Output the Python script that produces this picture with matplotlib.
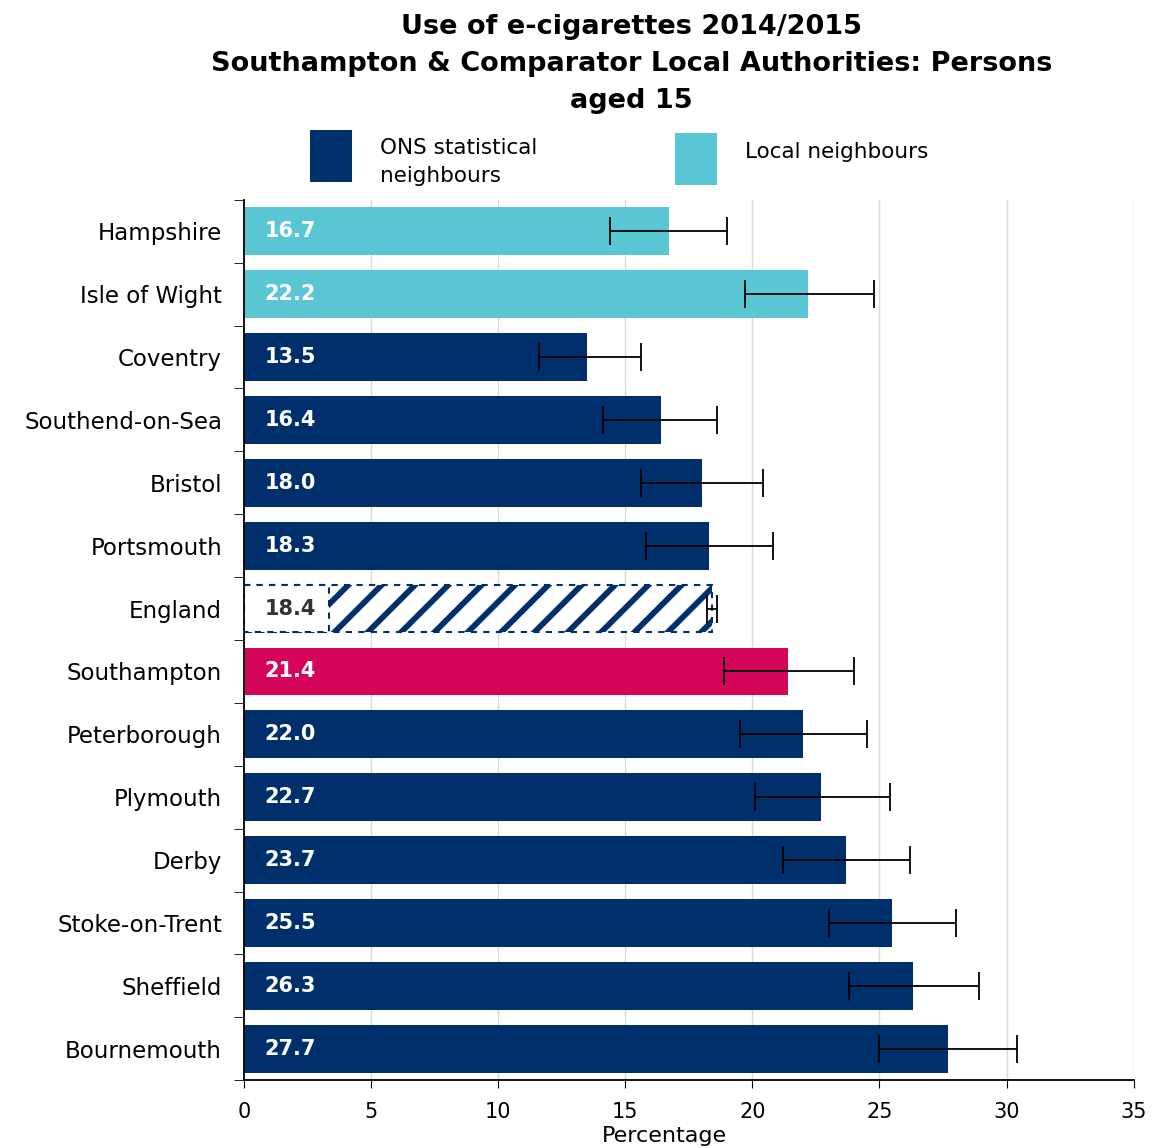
import matplotlib.pyplot as plt
import matplotlib.patches as mpatches
import numpy as np

plt.rcParams["font.family"] = ["DejaVu Sans"]
plt.rcParams["hatch.linewidth"] = 4.2

AREAS = ["Hampshire", "Isle of Wight", "Coventry", "Southend-on-Sea", "Bristol",
         "Portsmouth", "England", "Southampton", "Peterborough", "Plymouth",
         "Derby", "Stoke-on-Trent", "Sheffield", "Bournemouth"]
VALUES = [16.7, 22.2, 13.5, 16.4, 18.0, 18.3, 18.4, 21.4, 22.0, 22.7, 23.7, 25.5, 26.3, 27.7]
LOWER = [14.4, 19.7, 11.6, 14.1, 15.6, 15.8, 18.2, 18.9, 19.5, 20.1, 21.2, 23.0, 23.8, 25.0]
UPPER = [19.0, 24.8, 15.6, 18.6, 20.4, 20.8, 18.6, 24.0, 24.5, 25.4, 26.2, 28.0, 28.9, 30.4]
GROUPS = ["local", "local", "ons", "ons", "ons", "ons", "england", "southampton",
          "ons", "ons", "ons", "ons", "ons", "ons"]

NAVY = "#00306b"
CYAN = "#5bc6d3"
PINK = "#d4055b"
colors = {"local": CYAN, "ons": NAVY, "southampton": PINK, "england": "white"}
BAR_H = 0.76
LABEL_BG = 3.35  # width of the white box behind the England label

fig = plt.figure(figsize=(11.52, 11.48), dpi=100)
ax = fig.add_axes([0.212, 0.059, 0.772, 0.767])

y = np.arange(len(AREAS))
for i, (v, g) in enumerate(zip(VALUES, GROUPS)):
    if g == "england":
        ax.barh(i, v, height=BAR_H, color="white", edgecolor=NAVY, hatch="/",
                linestyle=(0, (3, 3)), linewidth=1.5, zorder=2)
        ax.barh(i, LABEL_BG, height=BAR_H, color="white", edgecolor=NAVY,
                linestyle=(0, (3, 3)), linewidth=1.5, zorder=2.5)
    else:
        ax.barh(i, v, height=BAR_H, color=colors[g], zorder=2)

vals = np.array(VALUES)
err = [vals - np.array(LOWER), np.array(UPPER) - vals]
ax.errorbar(vals, y, xerr=err, fmt="none", ecolor="black", elinewidth=1.3,
            capsize=10, capthick=1.3, zorder=3)

for i, (v, g) in enumerate(zip(VALUES, GROUPS)):
    ax.text(0.8, i, f"{v:.1f}", va="center", ha="left", fontsize=15,
            fontweight="bold", color="#333333" if g == "england" else "white",
            zorder=4)

ax.set_xlim(0, 35)
ax.set_ylim(len(AREAS) - 0.5, -0.5)
ax.set_xticks(np.arange(0, 36, 5))
ax.tick_params(axis="x", labelsize=15, length=6, direction="out", pad=10)
ax.set_yticks(y)
ax.set_yticklabels(AREAS, fontsize=16.5)
ax.tick_params(axis="y", length=0, pad=16)
ax.set_yticks(np.arange(-0.5, len(AREAS), 1), minor=True)
ax.tick_params(axis="y", which="minor", length=7, direction="out")
ax.set_xlabel("Percentage", fontsize=16)
ax.xaxis.set_label_coords(0.473, -0.052)
ax.xaxis.grid(True, color="#d9d9d9", linewidth=1)
ax.set_axisbelow(True)
for s in ["top", "right"]:
    ax.spines[s].set_visible(False)
ax.spines["left"].set_linewidth(1.3)
ax.spines["bottom"].set_linewidth(1.3)

fig.text(0.548, 0.988, "Use of e-cigarettes 2014/2015\nSouthampton & Comparator Local Authorities: Persons\naged 15",
         ha="center", va="top", fontsize=19.5, fontweight="bold", linespacing=1.56)

# legend
fig.add_artist(mpatches.Rectangle((0.269, 0.8415), 0.0365, 0.0453, transform=fig.transFigure,
                                  facecolor=NAVY, edgecolor="none"))
fig.text(0.33, 0.859, "ONS statistical\nneighbours", ha="left", va="center",
         fontsize=15.5, linespacing=1.5)
fig.add_artist(mpatches.Rectangle((0.586, 0.839), 0.0365, 0.0453, transform=fig.transFigure,
                                  facecolor=CYAN, edgecolor="none"))
fig.text(0.647, 0.868, "Local neighbours", ha="left", va="center", fontsize=15.5)

fig.savefig("out.png", dpi=100)
